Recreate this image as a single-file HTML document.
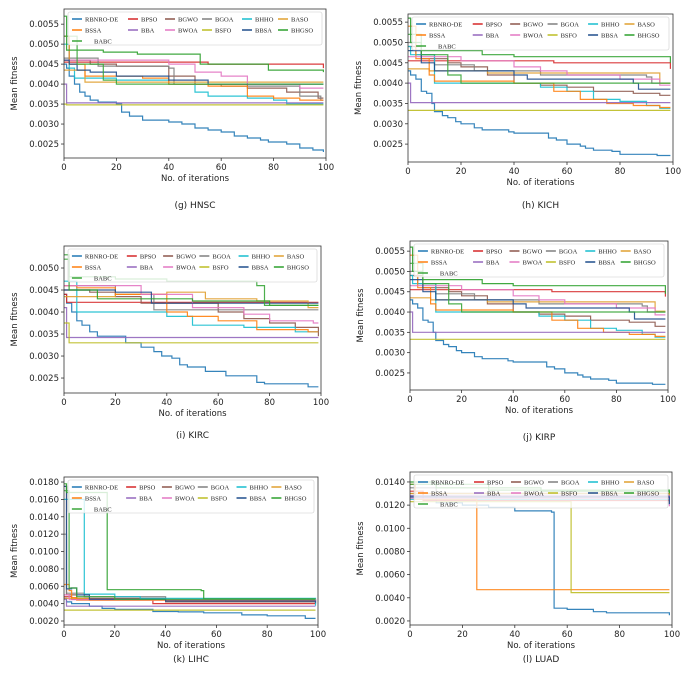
<!DOCTYPE html>
<html><head><meta charset="utf-8">
<style>
html,body{margin:0;padding:0;background:#fff;}
svg{display:block;font-family:"DejaVu Sans","Liberation Sans",sans-serif;}
</style></head>
<body>
<svg id="fig" width="685" height="684" viewBox="0 0 685 684" xmlns="http://www.w3.org/2000/svg"></svg>
<script>
// Values are mean fitness × 1e4, as [iteration, value] breakpoints (step curves)
const SCALE = 1e-4;
const seriesNames = ["RBNRO-DE","BPSO","BGWO","BGOA","BHHO","BASO","BSSA","BBA","BWOA","BSFO","BBSA","BHGSO","BABC"];
const seriesColors = ["#1f77b4","#d62728","#8c564b","#7f7f7f","#17becf","#e0a030","#ff7f0e","#9467bd","#e377c2","#bcbd22","#1f4e8c","#2ca02c","#3aa63a"];
const xTicks = [0,20,40,60,80,100];

const hnscSteps = [
 [[0,45],[1,44],[2,42],[4,40],[6,38],[8,37],[10,36],[13,35.5],[20,35],[22,33],[25,32],[30,31],[40,30.5],[45,30],[50,29],[55,28.5],[60,28],[65,27],[70,26.5],[75,26],[78,25.5],[85,25],[90,24],[95,23.5],[99,23]],
 [[0,45.5],[55,45],[99,44]],
 [[0,46],[10,45],[20,44.5],[40,42],[50,40],[70,39],[85,38],[97,36.5]],
 [[0,46.5],[13,44.5],[40,44],[42,40],[60,39.5],[90,37],[98,36]],
 [[0,50],[2,44],[4,41.5],[20,41],[40,40],[50,38],[55,37],[70,36.5],[80,36],[85,35]],
 [[0,43.5],[8,40.5]],
 [[0,52],[2,45],[8,42],[30,41.5],[40,40],[55,39.5],[70,37],[80,36.5],[90,36]],
 [[0,40],[1,35.3]],
 [[0,46],[20,46],[40,45],[50,43],[60,42],[70,40],[90,39]],
 [[0,35],[1,34.8]],
 [[0,46],[2,45],[5,43.5],[10,43],[20,42],[40,41],[55,40]],
 [[0,57],[1,48.5],[15,48],[28,47.5],[52,45],[78,43.5],[99,43]],
 [[0,52],[5,45],[15,41],[20,40]]
];
const kichSteps = [
 [[0,43],[1,42],[3,41],[5,38],[7,37.5],[9,35],[10,33],[13,32],[15,31.5],[18,30.5],[20,30],[25,29],[28,28.5],[38,28],[40,27.7],[53,26.5],[56,26],[60,25],[65,24.5],[67,24],[70,23.5],[77,23.2],[80,22.5],[94,22.2]],
 [[0,45.5],[55,45],[99,43.5]],
 [[0,49],[5,46],[15,45],[20,44],[30,42],[40,40],[50,39.5],[60,39],[70,38],[85,37.5],[95,37]],
 [[0,50],[3,47],[10,44.5],[25,43],[50,42],[90,41.5],[92,40]],
 [[0,49],[1,47],[10,40],[50,39],[60,38],[70,36],[80,35.5],[90,34.5],[95,33.8]],
 [[0,43.5],[8,43],[30,42.5],[95,40]],
 [[0,54],[3,46],[8,42],[10,40.5],[40,40],[55,38],[65,36],[75,35],[85,34.5],[95,34]],
 [[0,40],[1,35.2]],
 [[0,46.5],[20,45.5],[40,44],[50,43],[60,42],[80,41],[95,39.5]],
 [[0,33.3]],
 [[0,48],[5,45],[10,43],[40,42],[45,41],[85,40],[87,38.5]],
 [[0,56],[1,50],[5,48],[28,47],[40,46.5],[99,45]],
 [[0,52],[5,47],[15,42],[20,40]]
];
const kircSteps = [
 [[0,44],[1,42],[3,40],[5,38],[7,37],[10,35.5],[13,34.5],[24,33],[30,32],[35,31],[38,30],[42,29.5],[45,28],[48,27.5],[55,26.5],[63,25.5],[75,24],[78,23.7],[95,23]],
 [[0,44],[1,42.2]],
 [[0,45],[10,44.5],[20,43.5],[30,42],[60,40],[70,38.5],[80,37.5],[90,36.5],[99,34.5]],
 [[0,46],[20,44],[35,40.5]],
 [[0,47],[5,40],[40,39],[50,37],[70,36.5],[90,35.5]],
 [[0,43.5],[20,44],[40,44.5],[55,43],[75,42.5],[95,41]],
 [[0,46],[5,45.5],[20,44],[40,40],[48,39],[60,38],[75,36],[95,35.5]],
 [[0,41],[1,34.2]],
 [[0,46],[30,44],[50,41],[70,39.5],[80,38],[97,37.5]],
 [[0,37.5],[2,33]],
 [[0,45],[20,44.5],[34,42]],
 [[0,53],[2,45],[13,43],[50,42.5],[80,41.5]],
 [[0,52],[2,48],[20,47.5],[40,47],[75,46],[78,41.5]]
];
const kirpSteps = [
 [[0,43],[1,42],[3,41],[5,38],[7,37.5],[9,35],[10,33],[13,32],[15,31.5],[18,30.5],[20,30],[25,29],[28,28.5],[38,28],[40,27.7],[53,26.5],[56,26],[60,25],[65,24.5],[67,24],[70,23.5],[77,23.2],[80,22.5],[94,22.2]],
 [[0,45.5],[55,45],[99,43.8]],
 [[0,49],[5,46],[15,45],[20,44],[30,42],[40,40],[50,39.5],[60,39],[70,38],[85,37.5],[95,36.5]],
 [[0,50],[3,47],[10,44.5],[25,43],[50,42],[90,41.5],[92,40]],
 [[0,49],[1,47],[10,40],[50,39],[60,38],[70,36],[80,35.5],[90,34.5],[95,33.8]],
 [[0,43.5],[8,43],[30,42.5],[95,40.2]],
 [[0,54],[3,46],[8,42],[10,40.5],[40,40],[55,38],[65,36],[75,35],[85,34.5],[95,34]],
 [[0,40],[1,35]],
 [[0,46.5],[20,45.5],[40,44],[50,43],[60,42],[80,41],[95,39.3]],
 [[0,33.3]],
 [[0,48],[5,45],[10,43],[40,42],[45,41],[85,40],[87,38.3]],
 [[0,56],[1,50],[5,48],[28,47],[40,46.5],[99,44.5]],
 [[0,52],[5,47],[15,42],[20,40]]
];
const lihcSteps = [
 [[0,46],[1,42],[3,40],[10,37],[15,34.5],[20,33.5],[35,31],[45,30.5],[55,29.5],[70,27],[80,26],[95,23]],
 [[0,48],[3,45],[35,40],[99,39.5]],
 [[0,175],[1,50],[5,46],[40,42],[99,40]],
 [[0,120],[1,52],[8,48],[40,45],[99,42]],
 [[0,160],[7,160],[8,51],[20,48],[30,46],[99,37.5]],
 [[0,46],[10,44],[99,43.5]],
 [[0,62],[2,55],[3,47],[5,44],[99,43]],
 [[0,45],[1,37]],
 [[0,50],[2,44.5],[99,41]],
 [[0,32.5]],
 [[0,175],[1,57],[3,58],[5,50],[10,45],[40,43],[99,41]],
 [[0,178],[1,168],[16,168],[17,56],[54,55],[55,45.5]],
 [[0,170],[2,58],[5,48],[20,45]]
];
const luadSteps = [
 [[0,128],[10,122],[20,120],[30,118],[40,115],[54,114],[55,31],[60,30],[70,28],[75,27],[99,25]],
 [[0,132],[5,124],[99,123]],
 [[0,130],[99,125]],
 [[0,135],[10,130],[99,127]],
 [[0,125],[99,120]],
 [[0,130],[99,122]],
 [[0,138],[2,125],[25,125],[25.5,47],[99,47]],
 [[0,128],[99,124]],
 [[0,126],[99,119]],
 [[0,123],[61,123],[61.5,44.5]],
 [[0,127],[99,121]],
 [[0,140],[10,135],[50,132],[99,130]],
 [[0,138],[30,133],[99,131]]
];
const hnscTicks = [0.0025,0.0030,0.0035,0.0040,0.0045,0.0050,0.0055];
const kichTicks = [0.0025,0.0030,0.0035,0.0040,0.0045,0.0050,0.0055];
const kircTicks = [0.0025,0.0030,0.0035,0.0040,0.0045,0.0050];
const kirpTicks = [0.0025,0.0030,0.0035,0.0040,0.0045,0.0050,0.0055];
const lihcTicks = [0.0020,0.0040,0.0060,0.0080,0.0100,0.0120,0.0140,0.0160,0.0180];
const luadTicks = [0.0020,0.0040,0.0060,0.0080,0.0100,0.0120,0.0140];

const panels = [
 {id:"hnsc",cap:"(g) HNSC",steps:hnscSteps,ticks:hnscTicks,L:64,R:326,T:9,B:158,lo:0.00215,hi:0.00588,capY:208},
 {id:"kich",cap:"(h) KICH",steps:kichSteps,ticks:kichTicks,L:408,R:673,T:14,B:162,lo:0.00206,hi:0.0057,capY:208},
 {id:"kirc",cap:"(i) KIRC",steps:kircSteps,ticks:kircTicks,L:64,R:321,T:246,B:393,lo:0.00216,hi:0.0055,capY:438},
 {id:"kirp",cap:"(j) KIRP",steps:kirpSteps,ticks:kirpTicks,L:410,R:668,T:241,B:390,lo:0.00208,hi:0.00575,capY:440},
 {id:"lihc",cap:"(k) LIHC",steps:lihcSteps,ticks:lihcTicks,L:64,R:318,T:477,B:625,lo:0.00154,hi:0.01858,capY:662},
 {id:"luad",cap:"(l) LUAD",steps:luadSteps,ticks:luadTicks,L:410,R:672,T:472,B:625,lo:0.00165,hi:0.01486,capY:662}
];

const NS="http://www.w3.org/2000/svg";
const svg=document.getElementById("fig");
function mk(tag,attrs,parent){const e=document.createElementNS(NS,tag);for(const k in attrs)e.setAttribute(k,attrs[k]);(parent||svg).appendChild(e);return e;}

panels.forEach(p=>{
 const g=mk("g",{});
 
 
 const xs=v=>p.L+(v/100)*(p.R-p.L);
 const ys=v=>p.B-(v-p.lo)/(p.hi-p.lo)*(p.B-p.T);
 // series
 p.steps.forEach((pts,i)=>{
   let d="M"+xs(pts[0][0]).toFixed(1)+" "+ys(pts[0][1]*SCALE).toFixed(1);
   for(let j=1;j<pts.length;j++){
     d+=" H"+xs(pts[j][0]).toFixed(1)+" V"+ys(pts[j][1]*SCALE).toFixed(1);
   }
   d+=" H"+xs(99).toFixed(1);
   const path=mk("path",{d:d,fill:"none",stroke:seriesColors[i],"stroke-width":1.2,opacity:0.9},g);
   
   
 });
 // frame
 const fr=mk("rect",{x:p.L,y:p.T,width:p.R-p.L,height:p.B-p.T,fill:"none",stroke:"#333","stroke-width":0.8},g);
 
 
 // y ticks
 p.ticks.forEach(t=>{
   const y=ys(t);
   mk("line",{x1:p.L-3,x2:p.L,y1:y,y2:y,stroke:"#333","stroke-width":0.8},g);
   const tx=mk("text",{x:p.L-5,y:y+3,"font-size":8.5,"text-anchor":"end",fill:"#222"},g);
   tx.textContent=t.toFixed(4);
   
   
 });
 xTicks.forEach(t=>{
   const x=xs(t);
   mk("line",{x1:x,x2:x,y1:p.B,y2:p.B+3,stroke:"#333","stroke-width":0.8},g);
   const tx=mk("text",{x:x,y:p.B+12,"font-size":8.5,"text-anchor":"middle",fill:"#222"},g);
   tx.textContent=t;
   
   
 });
 const xl=mk("text",{x:(p.L+p.R)/2,y:p.B+23,"font-size":8.5,"text-anchor":"middle",fill:"#222"},g);
 xl.textContent="No. of iterations";
 
 
 const yc=(p.T+p.B)/2, yx=p.L-47;
 const yl=mk("text",{x:yx,y:yc,"font-size":8.5,"text-anchor":"middle",fill:"#222",transform:"rotate(-90 "+yx+" "+yc+")"},g);
 yl.textContent="Mean fitness";
 
 
 // legend
 const lx=p.L+4, lw=p.R-p.L-8, ly=p.T+3;
 const lg=mk("g",{},g);
 
 
 mk("rect",{x:lx,y:ly,width:lw,height:33,fill:"#fff","fill-opacity":0.8,stroke:"#ccc","stroke-width":0.6,rx:2},lg);
 const colOff=[4,60,97,134,174,210].map(v=>v/254*lw);
 seriesNames.forEach((n,i)=>{
   const row=Math.floor(i/6), col=i%6;
   const cx=lx+colOff[col], cy=ly+7+row*11;
   mk("line",{x1:cx,x2:cx+10,y1:cy,y2:cy,stroke:seriesColors[i],"stroke-width":1.5},lg);
   const tx=mk("text",{x:cx+(i==12?22:13),y:cy+2.5,"font-size":6.5,fill:"#222","font-family":"Liberation Serif, serif"},lg);
   tx.textContent=n;
   
   
 });
 const cap=mk("text",{x:(p.L+p.R)/2,y:p.capY,"font-size":9,"text-anchor":"middle",fill:"#222"},g);
 cap.textContent=p.cap;
 
 
});
</script>
</body></html>
